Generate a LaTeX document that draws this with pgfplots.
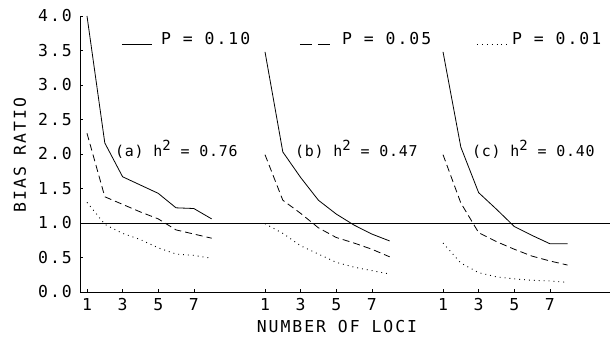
\documentclass[border=0pt]{standalone}
\usepackage{pgfplots}
\pgfplotsset{compat=1.18}
\usepackage{fontspec}
\newfontfamily\pf[LetterSpace=12]{DejaVu Sans Mono}
\newfontfamily\pa[LetterSpace=5]{DejaVu Sans Mono}
\newcommand\pfs{\pf\fontsize{16.5}{19}\selectfont}
\newcommand\pas{\pa\fontsize{15}{18}\selectfont}
\begin{document}
\begin{tikzpicture}
\begin{axis}[
 at={(0,0)}, anchor=south west, scale only axis,
 width=530bp, height=276bp,
 xmin=0.607, xmax=30.38, ymin=0, ymax=4,
 axis x line=bottom, axis y line=left,
 axis line style={-, line width=0.8bp},
 xtick={1,3,5,7,11,13,15,17,21,23,25,27},
 xticklabels={1,3,5,7,1,3,5,7,1,3,5,7},
 ytick={0,0.5,1,1.5,2,2.5,3,3.5,4},
 yticklabels={0.0,0.5,1.0,1.5,2.0,2.5,3.0,3.5,4.0},
 tick style={black, line width=0.6bp}, major tick length=3bp, tick align=inside,
 ticklabel style={font=\pfs},
 xticklabel style={inner sep=0pt, yshift=-6bp},
 yticklabel style={inner sep=0pt, xshift=-8bp},
 clip=false,
]
\addplot[black, line width=0.6bp] coordinates {(0.607,1) (30.38,1)};
% group (a)
\addplot[black, line width=0.8bp] coordinates {(1,4.0)(2,2.16)(3,1.67)(4,1.55)(5,1.43)(6,1.22)(7,1.21)(8,1.06)};
\addplot[black, line width=0.8bp, dash pattern=on 7bp off 4bp] coordinates {(1,2.30)(2,1.38)(3,1.27)(4,1.16)(5,1.06)(6,0.90)(7,0.84)(8,0.78)};
\addplot[black, line width=0.9bp, dash pattern=on 0.9bp off 4bp] coordinates {(1,1.30)(2,0.98)(3,0.85)(4,0.76)(5,0.64)(6,0.55)(7,0.53)(8,0.49)};
% group (b)
\addplot[black, line width=0.8bp] coordinates {(11,3.48)(12,2.03)(13,1.66)(14,1.33)(15,1.13)(16,0.97)(17,0.84)(18,0.74)};
\addplot[black, line width=0.8bp, dash pattern=on 7bp off 4bp] coordinates {(11,1.99)(12,1.33)(13,1.14)(14,0.93)(15,0.79)(16,0.71)(17,0.62)(18,0.51)};
\addplot[black, line width=0.9bp, dash pattern=on 0.9bp off 4bp] coordinates {(11,0.99)(12,0.85)(13,0.67)(14,0.55)(15,0.43)(16,0.36)(17,0.31)(18,0.26)};
% group (c)
\addplot[black, line width=0.8bp] coordinates {(21,3.48)(22,2.10)(23,1.44)(24,1.20)(25,0.95)(26,0.82)(27,0.70)(28,0.70)};
\addplot[black, line width=0.8bp, dash pattern=on 7bp off 4bp] coordinates {(21,1.99)(22,1.29)(23,0.86)(24,0.73)(25,0.62)(26,0.52)(27,0.45)(28,0.39)};
\addplot[black, line width=0.9bp, dash pattern=on 0.9bp off 4bp] coordinates {(21,0.71)(22,0.42)(23,0.28)(24,0.22)(25,0.19)(26,0.17)(27,0.16)(28,0.14)};
\end{axis}
\begin{scope}[shift={(-80bp,292bp)}, x=1bp, y=-1bp]
 \draw[black, line width=0.8bp] (122,44) -- (152,44);
 \draw[black, line width=0.8bp, dash pattern=on 12bp off 6bp] (300,44) -- (330,44);
 \draw[black, line width=0.9bp, dash pattern=on 0.9bp off 4bp] (477,44) -- (507,44);
 \node[anchor=base west, inner sep=0pt, font=\pfs] at (161,45) {P = 0.10};
 \node[anchor=base west, inner sep=0pt, font=\pfs] at (342,45) {P = 0.05};
 \node[anchor=base west, inner sep=0pt, font=\pfs] at (512,45) {P = 0.01};
 \node[anchor=base west, inner sep=0pt, font=\pas] at (115,157) {(a) h\raisebox{6bp}{\pa\fontsize{14}{14}\selectfont 2} = 0.76};
 \node[anchor=base west, inner sep=0pt, font=\pas] at (295,157) {(b) h\raisebox{6bp}{\pa\fontsize{14}{14}\selectfont 2} = 0.47};
 \node[anchor=base west, inner sep=0pt, font=\pas] at (472,157) {(c) h\raisebox{6bp}{\pa\fontsize{14}{14}\selectfont 2} = 0.40};
 \node[rotate=90, inner sep=0pt, font=\pfs] at (20,155) {BIAS RATIO};
 \node[inner sep=0pt, font=\pfs] at (337,327) {NUMBER OF LOCI};
\end{scope}
\pgfresetboundingbox
\path[use as bounding box] (-80bp,-45bp) rectangle (530bp,292bp);
\end{tikzpicture}
\end{document}
